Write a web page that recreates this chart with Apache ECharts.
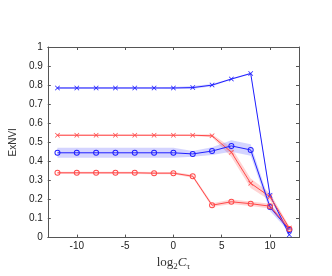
<!DOCTYPE html>
<html><head><meta charset="utf-8">
<script src="https://cdn.jsdelivr.net/npm/echarts@6/dist/echarts.min.js"></script>
<style>html,body{margin:0;padding:0;background:#fff}#c{width:332px;height:276px}</style>
</head><body><div id="c"></div>
<script>
var xs = [-12,-10,-8,-6,-4,-2,0,2,4,6,8,10,12];
var blueX    = [0.785,0.785,0.785,0.785,0.785,0.785,0.785,0.787,0.800,0.832,0.861,0.222,0.015];
var blueXErr = [0.004,0.004,0.004,0.004,0.004,0.004,0.005,0.008,0.006,0.004,0.004,0.010,0.010];
var redX     = [0.537,0.537,0.537,0.537,0.537,0.537,0.537,0.537,0.534,0.448,0.285,0.214,0.050];
var redXErr  = [0.004,0.004,0.004,0.004,0.004,0.004,0.004,0.004,0.008,0.025,0.025,0.020,0.010];
var blueO    = [0.445,0.445,0.445,0.445,0.445,0.445,0.445,0.439,0.454,0.481,0.460,0.160,0.040];
var blueOErr = [0.026,0.026,0.026,0.026,0.026,0.026,0.026,0.015,0.020,0.030,0.030,0.020,0.010];
var redO     = [0.340,0.340,0.340,0.340,0.340,0.338,0.338,0.322,0.170,0.188,0.178,0.165,0.045];
var redOErr  = [0.006,0.006,0.006,0.006,0.006,0.006,0.006,0.008,0.010,0.012,0.012,0.012,0.008];
var xTicks = [-10,-5,0,5,10];
var yTicks = [0,0.1,0.2,0.3,0.4,0.5,0.6,0.7,0.8,0.9,1];

var BLUE = '#1f1fff', RED = '#ff4a4a';
var BAND_B = 'rgba(60,60,255,0.22)', BAND_R = 'rgba(255,60,60,0.22)';
var crossPath = 'path://M0,1L1,0L5,4L9,0L10,1L6,5L10,9L9,10L5,6L1,10L0,9L4,5Z';
var ringPath = 'path://M5,0A5,5 0 1,1 5,10A5,5 0 1,1 5,0ZM5,1.6A3.4,3.4 0 1,0 5,8.4A3.4,3.4 0 1,0 5,1.6Z';

function bandData(v, e){ return xs.map(function(x,i){ return [x, v[i]-e[i], v[i]+e[i]]; }); }
function bandSeries(v, e, color){
  return {
    type:'custom', data: bandData(v,e), silent:true, z:1,
    encode:{x:0, y:[1,2]},
    renderItem: function(params, api){
      if (params.dataIndexInside !== 0) return null;
      var n = xs.length, pts = [], i;
      for (i=0;i<n;i++) pts.push(api.coord([api.value(0,i), api.value(2,i)]));
      for (i=n-1;i>=0;i--) pts.push(api.coord([api.value(0,i), api.value(1,i)]));
      return {type:'polygon', shape:{points:pts}, style:{fill:color, stroke:null}};
    }
  };
}
function lineSeries(v, color, sym, size){
  return {
    type:'line', data: xs.map(function(x,i){return [x,v[i]];}), z:3,
    symbol: sym, symbolSize: size, showAllSymbol:true,
    lineStyle:{color:color, width:1},
    itemStyle:{color: color, borderWidth:0},
    emphasis:{disabled:true}, animation:false
  };
}
var axisCol = '#555';
function tickStyle(){ return {show:true, inside:true, length:3, lineStyle:{color:axisCol}}; }
var chart = echarts.init(document.getElementById('c'));
chart.setOption({
  animation:false,
  backgroundColor:'#fff',
  grid:{left:43, right:33, top:47, bottom:28},
  xAxis:[{
    type:'value', min:-13, max:13,
    axisLine:{onZero:false, lineStyle:{color:axisCol}}, axisTick:Object.assign(tickStyle(), {customValues:xTicks}),
    splitLine:{show:false},
    axisLabel:{color:'#222', fontSize:10, fontFamily:'Liberation Sans', margin:4, customValues:xTicks},
    name:'{a|log}{s|2}{c|C}{s|τ}', nameLocation:'middle', nameGap:14,
    nameTextStyle:{rich:{
      a:{fontFamily:'Liberation Serif', fontSize:13, color:'#333'},
      s:{fontFamily:'Liberation Serif', fontSize:9, color:'#333', padding:[7,0,0,0]},
      c:{fontFamily:'Liberation Serif', fontStyle:'italic', fontSize:13, color:'#333'}
    }}
  },{
    type:'value', position:'top', min:-13, max:13,
    axisLine:{show:true, onZero:false, lineStyle:{color:axisCol}}, axisTick:Object.assign(tickStyle(), {customValues:xTicks}),
    axisLabel:{show:false}, splitLine:{show:false}
  }],
  yAxis:[{
    type:'value', min:0, max:1, interval:0.1,
    axisLine:{show:true, onZero:false, lineStyle:{color:axisCol}}, axisTick:tickStyle(),
    splitLine:{show:false},
    axisLabel:{color:'#222', fontSize:10, fontFamily:'Liberation Sans', margin:5,
      formatter:function(v){ return String(Math.round(v*10)/10); }},
    name:'ExNVI', nameLocation:'middle', nameGap:16,
    nameTextStyle:{fontFamily:'Liberation Sans', fontSize:10, color:'#333'}
  },{
    type:'value', position:'right', min:0, max:1, interval:0.1,
    axisLine:{show:true, onZero:false, lineStyle:{color:axisCol}}, axisTick:tickStyle(),
    axisLabel:{show:false}, splitLine:{show:false}
  }],
  series:[
    bandSeries(blueX, blueXErr, BAND_B),
    bandSeries(redX, redXErr, BAND_R),
    bandSeries(blueO, blueOErr, BAND_B),
    bandSeries(redO, redOErr, BAND_R),
    lineSeries(blueX, BLUE, crossPath, 5),
    lineSeries(redX, RED, crossPath, 5),
    lineSeries(blueO, BLUE, ringPath, 6),
    lineSeries(redO, RED, ringPath, 6)
  ]
});
</script></body></html>
